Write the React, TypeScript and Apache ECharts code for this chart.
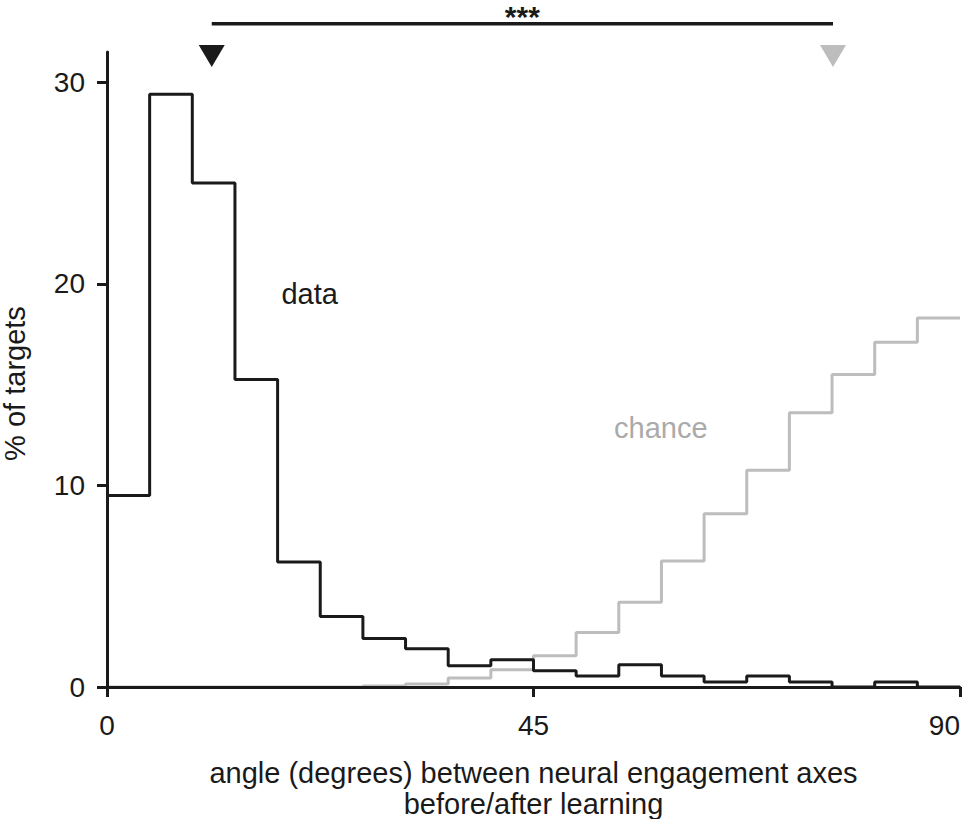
import React, { useEffect, useRef } from "react";
import * as echarts from "echarts";

// bin edges (degrees) and histogram values (% of targets)
const binEdges = [0, 4.5, 9, 13.5, 18, 22.5, 27, 31.5, 36, 40.5, 45, 49.5, 54, 58.5, 63, 67.5, 72, 76.5, 81, 85.5, 90];
const dataPct = [9.5, 29.4, 25.0, 15.25, 6.2, 3.5, 2.4, 1.9, 1.05, 1.35, 0.8, 0.55, 1.1, 0.55, 0.25, 0.55, 0.25, 0, 0.25, 0];
const chancePct = [0, 0, 0, 0, 0, 0, 0.05, 0.15, 0.45, 0.85, 1.55, 2.7, 4.2, 6.25, 8.6, 10.75, 13.6, 15.5, 17.1, 18.3];

const xTicks = [0, 45, 90];
const yTicks = [0, 10, 20, 30];

const dataMedian = 11.05;
const chanceMedian = 76.6;
const triangleLevel = 31.3;
const bracketLevel = 32.9;
const starsLevel = 33.28;

const dataLabelPos = [18.4, 19.52];
const chanceLabelPos = [53.5, 12.86];

const BLACK = "#1a1a1a";
const GRAY = "#bdbdbd";
const FONT = "'Liberation Sans', Arial, Helvetica, sans-serif";

function stepData(vals: number[]) {
  const pts: number[][] = vals.map((v, i) => [binEdges[i], v]);
  pts.push([binEdges[binEdges.length - 1], vals[vals.length - 1]]);
  return pts;
}

export default function App() {
  const ref = useRef<HTMLDivElement>(null);
  useEffect(() => {
    if (!ref.current) return;
    const chart = echarts.init(ref.current, undefined, { renderer: "svg" });
    chart.setOption({
      animation: false,
      backgroundColor: "#ffffff",
      textStyle: { fontFamily: FONT },
      grid: { left: 107, right: 10, top: 52, bottom: 132, containLabel: false, outerBoundsMode: "none" },
      xAxis: {
        type: "value",
        min: 0,
        max: 90,
        interval: 45,
        z: 5,
        axisLine: { show: true, onZero: false, lineStyle: { color: BLACK, width: 3 } },
        axisTick: { show: true, length: 10, inside: false, lineStyle: { color: BLACK, width: 3 } },
        axisLabel: {
          show: true,
          margin: 24,
          fontSize: 28,
          color: BLACK,
          fontFamily: FONT,
          customValues: xTicks,
          alignMaxLabel: "right",
        },
        splitLine: { show: false },
        name: "angle (degrees) between neural engagement axes\nbefore/after learning",
        nameLocation: "middle",
        nameGap: 70,
        nameTextStyle: { fontSize: 29, color: BLACK, fontFamily: FONT, lineHeight: 31 },
      },
      yAxis: {
        type: "value",
        min: 0,
        max: 31.5,
        z: 5,
        axisLine: { show: true, onZero: false, lineStyle: { color: BLACK, width: 3 } },
        axisTick: { show: true, length: 10, inside: false, lineStyle: { color: BLACK, width: 3 }, customValues: yTicks },
        axisLabel: { show: true, margin: 22, fontSize: 28, color: BLACK, fontFamily: FONT, customValues: yTicks },
        splitLine: { show: false },
        name: "% of targets",
        nameLocation: "middle",
        nameGap: 78,
        nameRotate: 90,
        nameTextStyle: { fontSize: 29, color: BLACK, fontFamily: FONT, lineHeight: 28, padding: [0, 28, 0, 0] },
      },
      series: [
        {
          type: "line",
          name: "chance",
          data: stepData(chancePct),
          step: "end",
          symbol: "none",
          lineStyle: { color: GRAY, width: 3 },
          z: 2,
        },
        {
          type: "line",
          name: "data",
          data: stepData(dataPct),
          step: "end",
          symbol: "none",
          lineStyle: { color: BLACK, width: 3 },
          z: 3,
        },
        {
          type: "scatter",
          name: "medians",
          clip: false,
          symbol: "triangle",
          symbolRotate: 180,
          symbolSize: [26, 22],
          data: [
            { value: [dataMedian, triangleLevel], itemStyle: { color: BLACK, opacity: 1 } },
            { value: [chanceMedian, triangleLevel], itemStyle: { color: GRAY, opacity: 1 } },
          ],
          z: 4,
        },
        {
          type: "line",
          name: "bracket",
          clip: false,
          symbol: "none",
          data: [
            [dataMedian, bracketLevel],
            [chanceMedian, bracketLevel],
          ],
          lineStyle: { color: BLACK, width: 3.5 },
          z: 4,
        },
        {
          type: "scatter",
          name: "labels",
          clip: false,
          symbolSize: 0,
          itemStyle: { opacity: 1 },
          data: [
            {
              value: [(dataMedian + chanceMedian) / 2, starsLevel],
              label: { show: true, formatter: "***", position: "inside", fontSize: 30, fontWeight: "bold", lineHeight: 30, color: BLACK, opacity: 1, fontFamily: FONT },
            },
            {
              value: dataLabelPos,
              label: { show: true, formatter: "data", position: "right", distance: 0, fontSize: 29, color: BLACK, opacity: 1, fontFamily: FONT },
            },
            {
              value: chanceLabelPos,
              label: { show: true, formatter: "chance", position: "right", distance: 0, fontSize: 29, color: "#aaaaaa", opacity: 1, fontFamily: FONT },
            },
          ],
          z: 6,
        },
      ],
    });
    return () => chart.dispose();
  }, []);
  return <div ref={ref} style={{ position: "fixed", left: 0, top: 0, width: 970, height: 819, background: "#fff" }} />;
}
